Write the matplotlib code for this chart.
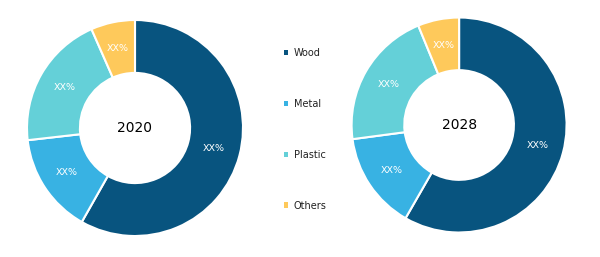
import numpy as np
import matplotlib.pyplot as plt
from matplotlib.patches import Patch

materials = ["Wood", "Metal", "Plastic", "Others"]
share_2020 = [58.2, 15.0, 20.2, 6.6]
share_2028 = [58.3, 14.6, 20.9, 6.2]
labels_2020 = ["XX%", "XX%", "XX%", "XX%"]
labels_2028 = ["XX%", "XX%", "XX%", "XX%"]
years = ["2020", "2028"]

colors = ["#08547f", "#38b2e3", "#64d0d8", "#fec95b"]

fig = plt.figure(figsize=(6, 2.57), dpi=100)

ax1 = fig.add_axes([0.045, 0.0817, 0.36, 0.8405])
ax2 = fig.add_axes([0.586, 0.0953, 0.3583, 0.8366])

def donut(ax, values, labels, year):
    wedges, _ = ax.pie(values, colors=colors, startangle=90, counterclock=False,
                       radius=1.0,
                       wedgeprops=dict(width=0.49, edgecolor="white", linewidth=1.5))
    # percentage labels in the middle of the ring
    for w, lab in zip(wedges, labels):
        ang = np.deg2rad((w.theta1 + w.theta2) / 2)
        r = 0.755
        ax.text(r * np.cos(ang), r * np.sin(ang), lab, ha="center", va="center",
                color="white", fontsize=6.8)
    ax.text(0, 0, year, ha="center", va="center", fontsize=10, color="black")
    ax.set_xlim(-1, 1)
    ax.set_ylim(-1, 1)
    ax.set_aspect("equal")

donut(ax1, share_2020, labels_2020, years[0])
donut(ax2, share_2028, labels_2028, years[1])

handles = [Patch(facecolor=c, edgecolor="none") for c in colors]
fig.legend(handles, materials, loc="center left", bbox_to_anchor=(0.458, 0.497),
           frameon=False, fontsize=7, handlelength=0.45, handleheight=0.45,
           handletextpad=0.6, labelspacing=4.2, labelcolor="#222222")

fig.savefig("out.png", dpi=100)
